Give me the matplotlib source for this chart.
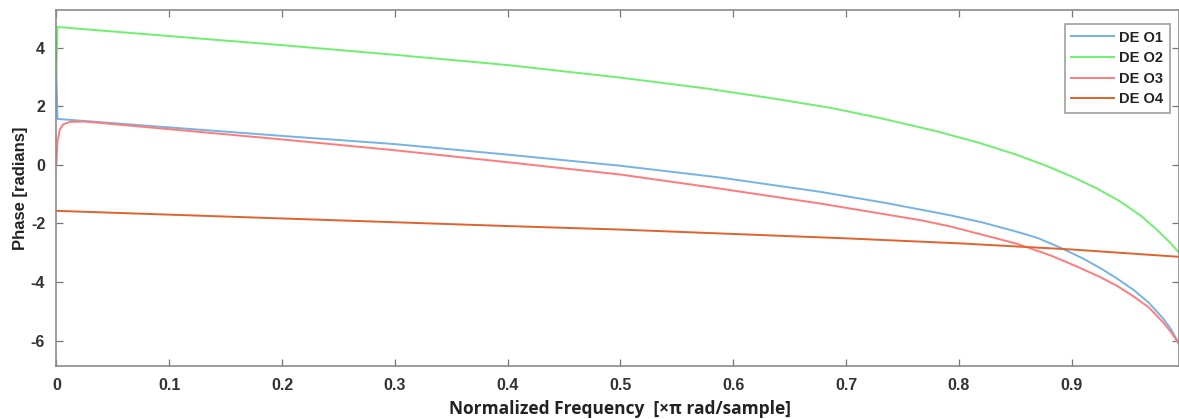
import matplotlib
matplotlib.use("Agg")
import matplotlib.pyplot as plt

# values (normalized frequency, phase in radians)
freq_o1 = [0, 0.001, 0.1, 0.2, 0.3, 0.4, 0.5, 0.588, 0.677, 0.735, 0.792, 0.82, 0.851, 0.87,
           0.890, 0.91, 0.925, 0.94, 0.955, 0.968, 0.981, 0.988, 0.995]
phase_o1 = [3.14, 1.57, 1.28, 0.99, 0.71, 0.35, -0.03, -0.43, -0.92, -1.30, -1.72, -1.96, -2.28, -2.50,
            -2.83, -3.20, -3.52, -3.88, -4.28, -4.70, -5.25, -5.62, -6.11]

freq_o2 = [0, 0.001, 0.1, 0.2, 0.3, 0.4, 0.5, 0.576, 0.635, 0.686, 0.730, 0.780, 0.819,
           0.850, 0.878, 0.900, 0.922, 0.942, 0.961, 0.975, 0.987, 0.995]
phase_o2 = [3.14, 4.71, 4.40, 4.09, 3.76, 3.41, 2.98, 2.61, 2.27, 1.95, 1.60, 1.15, 0.74,
            0.36, -0.04, -0.40, -0.80, -1.23, -1.73, -2.20, -2.65, -3.00]

freq_o3 = [0, 0.001, 0.003, 0.006, 0.012, 0.025, 0.1, 0.2, 0.3, 0.4, 0.5, 0.588, 0.677,
           0.766, 0.792, 0.82, 0.851, 0.881, 0.905, 0.925, 0.94, 0.955, 0.968, 0.981, 0.988, 0.995]
phase_o3 = [0.0, 0.8, 1.2, 1.38, 1.47, 1.48, 1.22, 0.87, 0.50, 0.09, -0.33, -0.81, -1.32,
            -1.89, -2.10, -2.38, -2.69, -3.09, -3.48, -3.83, -4.13, -4.50, -4.86, -5.38, -5.72, -6.11]

freq_o4 = [0, 0.1, 0.2, 0.3, 0.4, 0.5, 0.6, 0.7, 0.8, 0.9, 0.995]
phase_o4 = [-1.57, -1.70, -1.83, -1.96, -2.09, -2.21, -2.36, -2.51, -2.68, -2.89, -3.14]

labels = ['DE O1', 'DE O2', 'DE O3', 'DE O4']
colors = ['#74b3e3', '#6ef06e', '#ff7b7b', '#e0622c']

plt.rcParams['font.family'] = ['Liberation Sans', 'DejaVu Sans']
plt.rcParams['axes.unicode_minus'] = False

fig = plt.figure(figsize=(11.79, 4.19), dpi=100)
ax = fig.add_axes([0.0478, 0.1265, 0.9522, 0.8496])

series = [(freq_o1, phase_o1), (freq_o2, phase_o2), (freq_o3, phase_o3), (freq_o4, phase_o4)]
for (f, p), lab, c in zip(series, labels, colors):
    ax.plot(f, p, color=c, lw=1.4, label=lab)

ax.set_xlim(0, 0.995)
ax.set_ylim(-6.87, 5.29)
ax.set_xticks([0, 0.1, 0.2, 0.3, 0.4, 0.5, 0.6, 0.7, 0.8, 0.9])
ax.set_xticklabels(['0', '0.1', '0.2', '0.3', '0.4', '0.5', '0.6', '0.7', '0.8', '0.9'])
ax.set_yticks([-6, -4, -2, 0, 2, 4])

for s in ax.spines.values():
    s.set_color('#8a8a8a')
    s.set_linewidth(1.2)
ax.tick_params(direction='in', length=5, width=0.9, color='#777777',
               top=True, right=True, labelsize=11.5, labelcolor='#333333')
ax.tick_params(axis='x', pad=9)
ax.tick_params(axis='y', pad=8)
for t in ax.get_xticklabels() + ax.get_yticklabels():
    t.set_fontweight('bold')

ax.set_ylabel('Phase [radians]', fontsize=12, fontweight='bold', color='#222222', labelpad=2)
fig.text(0.526, 0.024, 'Normalized Frequency  [\u00d7\u03c0 rad/sample]', ha='center', va='center',
         fontsize=12.5, fontweight='bold', color='#222222', family=['Open Sans', 'DejaVu Sans'])

leg = ax.legend(loc='upper right', bbox_to_anchor=(0.9924, 0.9427), bbox_transform=fig.transFigure,
                fontsize=10.5, frameon=True, fancybox=False, handlelength=2.9, labelspacing=0.45,
                borderpad=0.45, handletextpad=0.4, borderaxespad=0)
leg.get_frame().set_edgecolor('#888888')
leg.get_frame().set_linewidth(1.2)
for t in leg.get_texts():
    t.set_fontweight('bold')
    t.set_color('#222222')

fig.savefig('out.png', dpi=100)
